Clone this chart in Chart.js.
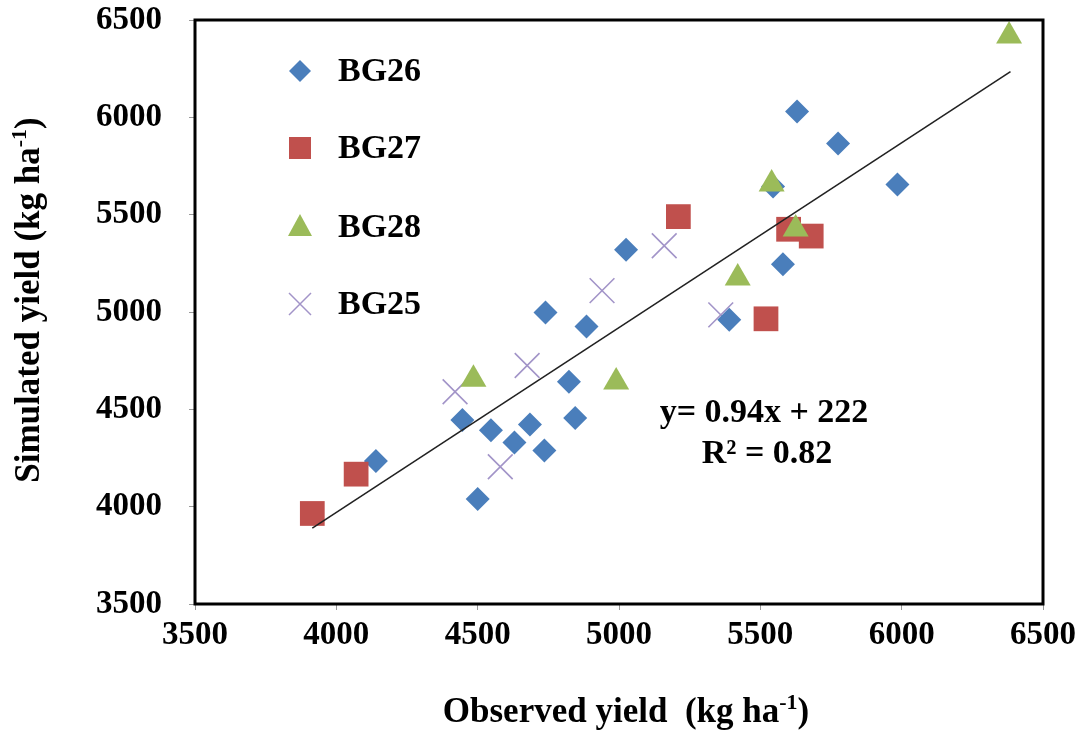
<!DOCTYPE html>
<html>
<head>
<meta charset="utf-8">
<script src="https://cdn.jsdelivr.net/npm/chart.js@4.4.1/dist/chart.umd.min.js"></script>
<style>
  html, body { margin: 0; padding: 0; background: #fff; }
  #wrap { width: 1081px; height: 736px; }
</style>
</head>
<body>
<div id="wrap"><canvas id="yieldChart" width="1081" height="736"></canvas></div>
<script>
// Valeurs (kg/ha)
const bg26Obs = [4140, 4446, 4547, 4500, 4630, 4685, 4736, 4823, 4845, 4740, 4885, 5025, 5390, 5580, 5545, 5630, 5775, 5985];
const bg26Sim = [4235, 4445, 4392, 4040, 4330, 4422, 4288, 4642, 4455, 4998, 4925, 5320, 4960, 5245, 5645, 6030, 5865, 5655];

const bg27Obs = [3915, 4070, 5210, 5520, 5600, 5680];
const bg27Sim = [3965, 4167, 5490, 4965, 5425, 5390];

const bg28Obs = [4485, 4990, 5420, 5540, 5625, 6380];
const bg28Sim = [4655, 4640, 5175, 5658, 5427, 6418];

const bg25Obs = [4420, 4580, 4675, 4940, 5160, 5360];
const bg25Sim = [4590, 4205, 4725, 5110, 5340, 4985];

// Droite de tendance (extrémités lues)
const trendObs = [3915, 6385];
const trendSim = [3890, 6235];

const axisTicks = [3500, 4000, 4500, 5000, 5500, 6000, 6500];
const equationLines = ['y= 0.94x + 222', 'R² = 0.82'];
const xTitle = ['Observed yield  (kg ha', '-1', ')'];
const yTitle = ['Simulated yield (kg ha', '-1', ')'];

const serif = "'Liberation Serif', 'Times New Roman', serif";

function toPoints(xs, ys) {
    return xs.map((x, i) => ({ x: x, y: ys[i] }));
}

const series = [
    { label: 'BG26', obs: bg26Obs, sim: bg26Sim, style: 'rectRot', radius: 12, color: '#4a7ebb', order: 4 },
    { label: 'BG27', obs: bg27Obs, sim: bg27Sim, style: 'rect', radius: 17.5, color: '#c0504d', order: 3 },
    { label: 'BG28', obs: bg28Obs, sim: bg28Sim, style: 'triangle', radius: 15, color: '#9bbb59', order: 2 },
    { label: 'BG25', obs: bg25Obs, sim: bg25Sim, style: 'crossRot', radius: 17.5, color: '#a294c8', order: 5 }
];

// Titre avec exposant, centré sur (0, 0) du contexte courant
function drawTitleWithSup(ctx, parts) {
    const mainFont = 'bold 35px ' + serif;
    const supFont = 'bold 22px ' + serif;
    ctx.font = mainFont;
    const w0 = ctx.measureText(parts[0]).width;
    const w2 = ctx.measureText(parts[2]).width;
    ctx.font = supFont;
    const w1 = ctx.measureText(parts[1]).width;
    let x = -(w0 + w1 + w2) / 2;
    ctx.textAlign = 'left';
    ctx.textBaseline = 'alphabetic';
    ctx.font = mainFont;
    ctx.fillText(parts[0], x, 11);
    x += w0;
    ctx.font = supFont;
    ctx.fillText(parts[1], x, -2);
    x += w1;
    ctx.font = mainFont;
    ctx.fillText(parts[2], x, 11);
}

// Cadre, légende, titres et équation dessinés par-dessus
const overlayPlugin = {
    id: 'overlay',
    afterDraw(chart) {
        const ctx = chart.ctx;
        const area = chart.chartArea;
        ctx.save();

        // Cadre noir épais
        ctx.strokeStyle = '#000';
        ctx.lineWidth = 3;
        ctx.strokeRect(area.left, area.top, area.right - area.left, area.bottom - area.top);

        // Légende à l'intérieur
        const legendY = [71, 148, 227, 304];
        const markerX = 300;
        ctx.font = 'bold 34px ' + serif;
        ctx.textBaseline = 'middle';
        ctx.textAlign = 'left';
        series.forEach((s, i) => {
            const y = legendY[i];
            ctx.fillStyle = s.color;
            ctx.strokeStyle = s.color;
            ctx.beginPath();
            if (s.style === 'rectRot') {
                ctx.moveTo(markerX, y - 11);
                ctx.lineTo(markerX + 11, y);
                ctx.lineTo(markerX, y + 11);
                ctx.lineTo(markerX - 11, y);
                ctx.closePath();
                ctx.fill();
            } else if (s.style === 'rect') {
                ctx.rect(markerX - 11, y - 11, 22, 22);
                ctx.fill();
            } else if (s.style === 'triangle') {
                ctx.moveTo(markerX, y - 13);
                ctx.lineTo(markerX + 12, y + 9);
                ctx.lineTo(markerX - 12, y + 9);
                ctx.closePath();
                ctx.fill();
            } else {
                ctx.lineWidth = 1.5;
                ctx.moveTo(markerX - 11, y - 11);
                ctx.lineTo(markerX + 11, y + 11);
                ctx.moveTo(markerX + 11, y - 11);
                ctx.lineTo(markerX - 11, y + 11);
                ctx.stroke();
            }
            ctx.fillStyle = '#000';
            ctx.fillText(s.label, 338, y + 1);
        });

        // Équation de la droite
        ctx.font = 'bold 34px ' + serif;
        ctx.textAlign = 'center';
        ctx.fillStyle = '#000';
        ctx.fillText(equationLines[0], 764, 413);
        ctx.fillText(equationLines[1], 767, 454);

        // Titres des axes
        ctx.save();
        ctx.translate(626, 711);
        drawTitleWithSup(ctx, xTitle);
        ctx.restore();

        ctx.save();
        ctx.translate(28, 300);
        ctx.rotate(-Math.PI / 2);
        drawTitleWithSup(ctx, yTitle);
        ctx.restore();

        ctx.restore();
    }
};

const datasets = series.map(s => ({
    label: s.label,
    data: toPoints(s.obs, s.sim),
    pointStyle: s.style,
    pointRadius: s.radius,
    pointHoverRadius: s.radius,
    backgroundColor: s.color,
    borderColor: s.color,
    borderWidth: s.style === 'crossRot' ? 1.6 : 0,
    showLine: false,
    order: s.order
}));

datasets.push({
    label: 'Tendance',
    data: toPoints(trendObs, trendSim),
    showLine: true,
    borderColor: '#222',
    borderWidth: 1.6,
    pointRadius: 0,
    order: 1
});

const tickFont = { family: serif, size: 33, weight: 'bold' };

new Chart(document.getElementById('yieldChart'), {
    type: 'scatter',
    data: { datasets: datasets },
    plugins: [overlayPlugin],
    options: {
        responsive: false,
        animation: false,
        events: [],
        layout: { padding: { top: 20, right: 38, left: 0, bottom: 0 } },
        plugins: {
            legend: { display: false },
            tooltip: { enabled: false }
        },
        scales: {
            x: {
                type: 'linear',
                min: 3500,
                max: 6500,
                afterBuildTicks: scale => { scale.ticks = axisTicks.map(v => ({ value: v })); },
                afterFit: scale => {
                    scale.height = 132;
                    scale.paddingLeft = 0;
                    scale.paddingRight = 0;
                },
                grid: { drawOnChartArea: false, drawTicks: true, tickLength: 6, color: '#999' },
                border: { display: false },
                ticks: { font: tickFont, color: '#000', padding: 6, maxRotation: 0, callback: v => String(v) }
            },
            y: {
                type: 'linear',
                min: 3500,
                max: 6500,
                afterBuildTicks: scale => { scale.ticks = axisTicks.map(v => ({ value: v })); },
                afterFit: scale => {
                    scale.width = 195;
                    scale.paddingTop = 0;
                    scale.paddingBottom = 0;
                },
                grid: { drawOnChartArea: false, drawTicks: true, tickLength: 6, color: '#999' },
                border: { display: false },
                ticks: { font: tickFont, color: '#000', padding: 27, callback: v => String(v) }
            }
        }
    }
});
</script>
</body>
</html>
